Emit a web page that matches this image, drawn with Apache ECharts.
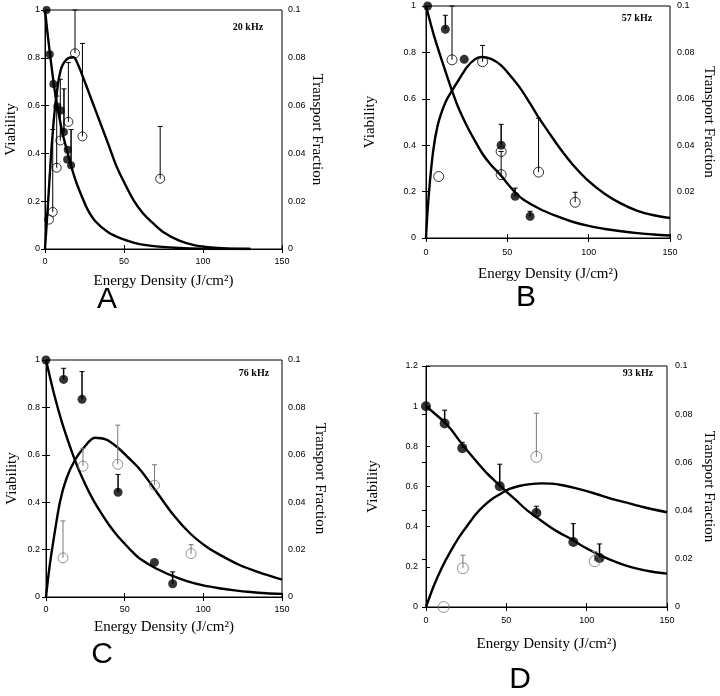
<!DOCTYPE html>
<html><head><meta charset="utf-8">
<script src="https://cdn.jsdelivr.net/npm/echarts@6/dist/echarts.min.js"></script>
<style>html,body{margin:0;padding:0;background:#fff}#c{width:720px;height:696px}</style>
</head><body><div id="c"></div>
<script>
// ---------- tick / label data ----------
const xTicks = [0, 50, 100, 150];
const viabMax = [1, 1, 1, 1.2];
const transMax = [0.1, 0.1, 0.1, 0.1];
const panelLetters = ['A', 'B', 'C', 'D'];
const freqLabels = ['20 kHz', '57 kHz', '76 kHz', '93 kHz'];
const xTitle = 'Energy Density (J/cm\u00B2)';
const leftTitle = 'Viability';
const rightTitle = 'Transport Fraction';

// ---------- Panel A (20 kHz) ----------
const aViabCurve = [[0,1],[2,0.88],[4,0.77],[6,0.67],[8,0.59],[10,0.52],[12,0.46],[14,0.41],[16,0.36],[18,0.315],[20,0.275],[23,0.225],[27,0.165],[32,0.115],[40,0.07],[48,0.044],[56,0.027],[64,0.016],[72,0.01],[85,0.004],[100,0.001],[115,0],[130,0]];
const aTransCurve = [[0,0],[2,0.02],[4,0.041],[6,0.057],[8,0.068],[10,0.075],[12,0.078],[15,0.08],[18,0.0802],[21,0.077],[24,0.072],[28,0.065],[32,0.058],[36,0.051],[40,0.044],[45,0.035],[50,0.028],[56,0.0205],[62,0.015],[68,0.011],[75,0.007],[85,0.0035],[95,0.0015],[105,0.0006],[115,0.0002],[130,0]];
const aViabPts = [[1,1],[3,0.815],[5.3,0.69],[7.8,0.596],[10,0.58],[12,0.49],[14.4,0.415],[14,0.375],[16.5,0.35]];
const aViabErr = [[12,0.49,0.67],[16.5,0.35,0.5]];
const aTransPts = [[2.5,0.0123],[4.9,0.0155],[7.4,0.034],[9.7,0.0454],[14.8,0.0532],[19,0.0819],[23.7,0.0471],[72.9,0.0294]];
const aTransErr = [[4.9,0.0155,0.05],[7.4,0.034,0.064],[9.7,0.0454,0.071],[14.8,0.0532,0.078],[19,0.0819,0.1],[23.7,0.0471,0.086],[72.9,0.0294,0.0513]];

// ---------- Panel B (57 kHz) ----------
const bViabCurve = [[0,1],[5,0.87],[10,0.76],[15,0.655],[20,0.56],[25,0.485],[30,0.42],[35,0.36],[40,0.315],[46,0.27],[50,0.235],[55,0.195],[60,0.165],[70,0.125],[80,0.095],[90,0.07],[100,0.052],[110,0.039],[120,0.029],[130,0.021],[140,0.015],[150,0.011]];
const bTransCurve = [[0,0],[1,0.012],[2.5,0.025],[4.5,0.038],[7,0.048],[10,0.055],[13,0.06],[16,0.0635],[20,0.068],[25,0.0735],[30,0.077],[34,0.078],[40,0.0772],[46,0.0745],[52,0.0698],[58,0.0645],[64,0.058],[69,0.0522],[76,0.045],[83,0.038],[90,0.0318],[100,0.0245],[110,0.019],[120,0.0148],[130,0.0117],[140,0.0098],[150,0.0086]];
const bViabPts = [[1,1],[11.9,0.9],[23.5,0.77],[46.2,0.4],[54.8,0.18],[64,0.093]];
const bViabErr = [[11.9,0.9,0.96],[46.2,0.4,0.49],[54.8,0.18,0.215],[64,0.093,0.115]];
const bTransPts = [[7.8,0.0265],[16,0.0768],[34.8,0.076],[46.2,0.0373],[46.2,0.0273],[69.2,0.0284],[91.7,0.0154]];
const bTransErr = [[16,0.0768,0.1],[34.8,0.076,0.083],[46.2,0.0273,0.0373],[69.2,0.0284,0.0516],[91.7,0.0154,0.0197]];

// ---------- Panel C (76 kHz) ----------
const cViabCurve = [[0,1],[5,0.86],[10,0.74],[15,0.64],[20,0.55],[25,0.475],[30,0.41],[35,0.355],[40,0.305],[45,0.262],[50,0.225],[55,0.19],[60,0.16],[70,0.12],[80,0.09],[90,0.066],[100,0.049],[110,0.037],[120,0.028],[130,0.021],[140,0.016],[150,0.013]];
const cTransCurve = [[0,0],[1,0.006],[2.5,0.014],[4.6,0.0233],[8.9,0.0402],[13,0.05],[18.4,0.0578],[24,0.063],[31,0.0672],[38,0.0665],[45,0.0634],[52,0.059],[60,0.0536],[70,0.0446],[81,0.0346],[91.5,0.0269],[102,0.0212],[110,0.018],[123,0.0135],[135,0.0105],[150,0.0073]];
const cViabPts = [[0,1],[11.2,0.918],[22.9,0.834],[45.8,0.442],[68.9,0.146],[80.5,0.056]];
const cViabErr = [[11.2,0.918,0.965],[22.9,0.834,0.951],[45.8,0.442,0.517],[80.5,0.056,0.106]];
const cTransPts = [[10.8,0.0165],[23.5,0.0552],[45.6,0.056],[69,0.0472],[92.2,0.0183]];
const cTransErr = [[10.8,0.0165,0.0321],[23.5,0.0552,0.0627],[45.6,0.056,0.0725],[69,0.0472,0.0558],[92.2,0.0183,0.0221]];

// ---------- Panel D (93 kHz) ----------
const dViabCurve = [[0,1],[5,0.966],[11.6,0.92],[16,0.88],[21,0.826],[26,0.775],[31.3,0.726],[38,0.665],[45.9,0.605],[50,0.575],[56,0.532],[62.4,0.485],[70,0.44],[77,0.4],[83.2,0.369],[90,0.34],[97,0.305],[104,0.275],[112,0.245],[118,0.225],[125,0.205],[132,0.19],[140,0.177],[150,0.166]];
const dTransCurve = [[0,0],[5,0.009],[10,0.0165],[15,0.0228],[21,0.0294],[26,0.034],[31,0.0385],[36,0.042],[42,0.0452],[47,0.0472],[52,0.049],[58,0.0502],[65,0.051],[72,0.0513],[78,0.0512],[85,0.0505],[93,0.0493],[104,0.0473],[115,0.045],[125,0.0433],[135,0.0415],[150,0.0393]];
const dViabPts = [[0,1],[11.6,0.914],[22.6,0.791],[45.9,0.601],[68.7,0.468],[91.7,0.324],[108,0.244]];
const dViabErr = [[11.6,0.914,0.98],[22.6,0.791,0.82],[45.9,0.601,0.711],[68.7,0.468,0.502],[91.7,0.324,0.415],[108,0.244,0.314]];
const dTransPts = [[11,0],[23,0.0161],[68.7,0.0623],[105,0.019]];
const dTransErr = [[23,0.0161,0.0215],[68.7,0.0623,0.0804],[105,0.019,0.023]];

// ---------- assemble ----------
const panelData = [
  {vc:aViabCurve, tc:aTransCurve, vp:aViabPts, ve:aViabErr, tp:aTransPts, te:aTransErr},
  {vc:bViabCurve, tc:bTransCurve, vp:bViabPts, ve:bViabErr, tp:bTransPts, te:bTransErr},
  {vc:cViabCurve, tc:cTransCurve, vp:cViabPts, ve:cViabErr, tp:cTransPts, te:cTransErr},
  {vc:dViabCurve, tc:dTransCurve, vp:dViabPts, ve:dViabErr, tp:dTransPts, te:dTransErr}
];

// layout (positions / styles)
const layouts = [
  {left:45, top:10, w:237, h:239, vGap:26, tGap:10, xGap:25, xm:8, lm:5, rm:6, letter:[107,300], freq:[248,27], openCol:'#000', sym:8},
  {left:426, top:6, w:244, h:232, vGap:48, tGap:31, xGap:29, xm:10, lm:10, rm:7, letter:[526,298], freq:[637,18], openCol:'#000', sym:9},
  {left:46, top:360, w:236, h:237, vGap:26, tGap:30, xGap:23, xm:8, lm:6, rm:6, letter:[102,655], freq:[254,373], openCol:'#777', sym:9},
  {left:426, top:366, w:241, h:241, vGap:45, tGap:34, xGap:30, xm:9, lm:8, rm:8, letter:[520,680], freq:[638,373], openCol:'#777', sym:10}
];

const SANS = 'Liberation Sans';
const SERIF = 'Liberation Serif';
const fmt = v => String(Number(v.toFixed(3)));

const grids = [], xAxes = [], yAxes = [], series = [], graphics = [];

function errSeries(data, xi, yi, color, lw) {
  return {
    type: 'custom', xAxisIndex: xi, yAxisIndex: yi, data: data, z: 3, silent: true,
    encode: {x: 0, y: [1, 2]},
    renderItem: (params, api) => {
      const p0 = api.coord([api.value(0), api.value(1)]);
      const p1 = api.coord([api.value(0), api.value(2)]);
      return {type: 'group', children: [
        {type: 'line', shape: {x1: p0[0], y1: p0[1], x2: p1[0], y2: p1[1]}, style: {stroke: color, lineWidth: lw}},
        {type: 'line', shape: {x1: p1[0] - 2.5, y1: p1[1], x2: p1[0] + 2.5, y2: p1[1]}, style: {stroke: color, lineWidth: 1}}
      ]};
    }
  };
}

layouts.forEach((L, i) => {
  const D = panelData[i];
  grids.push({left: L.left, top: L.top, width: L.w, height: L.h, show: true, borderColor: '#000', borderWidth: 1, backgroundColor: 'transparent'});
  const axLine = {show: true, lineStyle: {color: '#000', width: 1}};
  const tick = {show: true, inside: true, length: 4, lineStyle: {color: '#000'}};
  xAxes.push({
    type: 'value', gridIndex: i, min: xTicks[0], max: xTicks[xTicks.length - 1], interval: xTicks[1] - xTicks[0],
    position: 'bottom', axisLine: axLine, axisTick: tick, splitLine: {show: false},
    axisLabel: {fontFamily: SANS, fontSize: 9, color: '#000', margin: L.xm},
    name: xTitle, nameLocation: 'middle', nameGap: L.xGap,
    nameTextStyle: {fontFamily: SERIF, fontSize: 15, color: '#000', verticalAlign: 'top'}
  });
  xAxes.push({
    type: 'value', gridIndex: i, min: xTicks[0], max: xTicks[xTicks.length - 1], interval: xTicks[1] - xTicks[0],
    position: 'top', axisLine: axLine, axisTick: tick, splitLine: {show: false}, axisLabel: {show: false}
  });
  yAxes.push({
    type: 'value', gridIndex: i, min: 0, max: viabMax[i], interval: 0.2, position: 'left',
    axisLine: axLine, axisTick: tick, splitLine: {show: false},
    axisLabel: {fontFamily: SANS, fontSize: 9, color: '#000', margin: L.lm, formatter: fmt},
    name: leftTitle, nameLocation: 'middle', nameRotate: 90, nameGap: L.vGap,
    nameTextStyle: {fontFamily: SERIF, fontSize: 15, color: '#000'}
  });
  yAxes.push({
    type: 'value', gridIndex: i, min: 0, max: transMax[i], interval: 0.02, position: 'right',
    axisLine: axLine, axisTick: tick, splitLine: {show: false},
    axisLabel: {fontFamily: SANS, fontSize: 9, color: '#000', margin: L.rm, formatter: fmt},
    name: rightTitle, nameLocation: 'middle', nameRotate: -90, nameGap: L.tGap,
    nameTextStyle: {fontFamily: SERIF, fontSize: 15, color: '#000'}
  });
  const xi = 2 * i, yl = 2 * i, yr = 2 * i + 1;
  series.push({type: 'line', xAxisIndex: xi, yAxisIndex: yl, data: D.vc, smooth: 0.3, showSymbol: false, symbol: 'none', lineStyle: {color: '#000', width: 2.4, join: 'round'}, z: 2, silent: true});
  series.push({type: 'line', xAxisIndex: xi, yAxisIndex: yr, data: D.tc, smooth: 0.3, showSymbol: false, symbol: 'none', lineStyle: {color: '#000', width: 2.4, join: 'round'}, z: 2, silent: true});
  series.push(errSeries(D.ve, xi, yl, '#000', 1.5));
  series.push(errSeries(D.te, xi, yr, L.openCol, 1));
  series.push({type: 'scatter', xAxisIndex: xi, yAxisIndex: yl, data: D.vp, symbol: 'circle', symbolSize: L.sym, itemStyle: {color: '#000'}, z: 5, silent: true});
  series.push({type: 'scatter', xAxisIndex: xi, yAxisIndex: yr, data: D.tp, symbol: 'circle', symbolSize: L.sym + 1, itemStyle: {color: 'rgba(255,255,255,0)', borderColor: L.openCol, borderWidth: 1}, z: 5, silent: true});
  graphics.push({type: 'text', x: L.freq[0], y: L.freq[1], style: {text: freqLabels[i], font: 'bold 10px "Liberation Serif"', fill: '#000', align: 'center', verticalAlign: 'middle'}});
  graphics.push({type: 'text', x: L.letter[0], y: L.letter[1], style: {text: panelLetters[i], font: '30px "Liberation Sans"', fill: '#000', align: 'center', verticalAlign: 'middle'}});
});

const chart = echarts.init(document.getElementById('c'), null, {renderer: 'canvas'});
chart.setOption({
  backgroundColor: '#fff', animation: false,
  grid: grids, xAxis: xAxes, yAxis: yAxes, series: series, graphic: graphics
});
</script></body></html>
